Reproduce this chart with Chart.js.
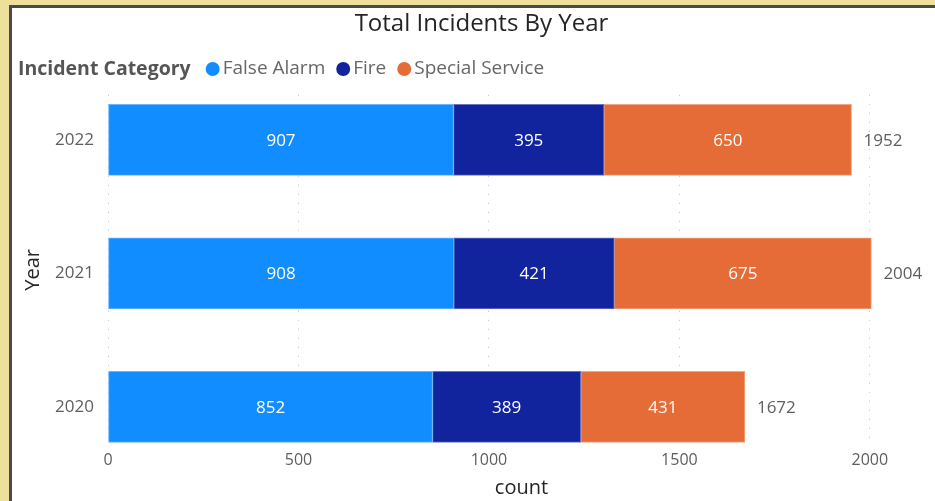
<!DOCTYPE html>
<html>
<head>
<meta charset="utf-8">
<title>Total Incidents By Year</title>
<script src="https://cdn.jsdelivr.net/npm/chart.js@4"></script>
<style>
  html, body { margin: 0; padding: 0; }
  body { width: 935px; height: 501px; background: #EEDF9B; position: relative; overflow: hidden; }
  #panel {
    position: absolute; left: 9px; top: 5px; right: 0; bottom: 0;
    background: #fff;
    border-left: 3px solid #4a4a4a;
    border-top: 3px solid #4a4a4a;
  }
  #chart { position: absolute; left: 0; top: 0; }
</style>
</head>
<body>
<div id="panel"></div>
<canvas id="chart" width="935" height="501"></canvas>
<script>
// ===== data =====
const years = [2020, 2021, 2022];
const falseAlarm = [852, 908, 907];
const fire = [389, 421, 395];
const specialService = [431, 675, 650];
const xTicks = [0, 500, 1000, 1500, 2000];

const seriesNames = ['False Alarm', 'Fire', 'Special Service'];
const seriesColors = ['#118DFF', '#12239E', '#E66C37'];
const seriesEdges = ['#6BB6FF', '#6A74C2', '#F0A585'];

const FONT = "'Open Sans', 'Noto Sans', sans-serif";

function toPoints(values) {
  return values.map((v, i) => ({ x: v, y: years[i] }));
}

// data labels inside segments + totals at the bar end
const barLabels = {
  id: 'barLabels',
  afterDatasetsDraw(chart) {
    const ctx = chart.ctx;
    ctx.save();
    ctx.font = '17px ' + FONT;
    ctx.textBaseline = 'middle';
    chart.data.datasets.forEach((ds, di) => {
      const meta = chart.getDatasetMeta(di);
      meta.data.forEach((el, i) => {
        ctx.fillStyle = '#ffffff';
        ctx.textAlign = 'center';
        ctx.fillText(String(ds.data[i].x), (el.x + el.base) / 2, el.y + 1);
        if (di === chart.data.datasets.length - 1) {
          const total = falseAlarm[i] + fire[i] + specialService[i];
          ctx.fillStyle = '#605E5C';
          ctx.textAlign = 'left';
          ctx.fillText(String(total), el.x + 12, el.y + 1);
        }
      });
    });
    ctx.restore();
  }
};

// Power BI style legend: bold title followed by dot items on one line
const inlineLegend = {
  id: 'inlineLegend',
  afterDraw(chart) {
    const ctx = chart.ctx;
    const y = 69;
    ctx.save();
    ctx.textBaseline = 'middle';
    ctx.textAlign = 'left';
    ctx.font = 'bold 19.5px ' + FONT;
    ctx.fillStyle = '#555555';
    let x = 18;
    ctx.fillText('Incident Category', x, y);
    x += ctx.measureText('Incident Category').width + 15;
    ctx.font = '19px ' + FONT;
    chart.data.datasets.forEach((ds, i) => {
      ctx.fillStyle = seriesColors[i];
      ctx.beginPath();
      ctx.arc(x + 7, y, 7, 0, Math.PI * 2);
      ctx.fill();
      x += 17;
      ctx.fillStyle = '#666666';
      ctx.fillText(ds.label, x, y);
      x += ctx.measureText(ds.label).width + 11;
    });
    ctx.restore();
  }
};

const datasets = [falseAlarm, fire, specialService].map((vals, i) => ({
  label: seriesNames[i],
  data: toPoints(vals),
  backgroundColor: seriesColors[i],
  borderColor: seriesEdges[i],
  borderWidth: 1,
  borderSkipped: false,
  barThickness: 71
}));

new Chart(document.getElementById('chart'), {
  type: 'bar',
  data: { datasets },
  options: {
    indexAxis: 'y',
    responsive: false,
    animation: false,
    layout: { padding: { left: 28, right: 0, top: 0, bottom: 0 } },
    scales: {
      x: {
        type: 'linear',
        stacked: true,
        min: 0,
        max: 2171,
        afterBuildTicks: s => { s.ticks = xTicks.map(v => ({ value: v })); },
        afterFit: s => { s.height = 56; },
        border: { display: false, dash: [1, 8] },
        grid: {
          color: '#BEBBB8',
          lineWidth: 1,
          drawTicks: false
        },
        ticks: {
          padding: 6,
          color: '#605E5C',
          font: { family: FONT, size: 16 },
          callback: v => String(v)
        },
        title: {
          display: true,
          text: 'count',
          color: '#252423',
          font: { family: FONT, size: 20 },
          padding: { top: 0, bottom: 1 }
        }
      },
      y: {
        type: 'linear',
        stacked: true,
        offset: false,
        min: 2019.715,
        max: 2022.337,
        afterBuildTicks: s => { s.ticks = years.map(v => ({ value: v })); },
        afterFit: s => { s.width = 80; },
        border: { display: false },
        grid: { display: false, drawTicks: false },
        ticks: {
          padding: 14,
          color: '#605E5C',
          font: { family: FONT, size: 17 },
          callback: v => String(v)
        },
        title: {
          display: true,
          text: 'Year',
          color: '#252423',
          font: { family: FONT, size: 20, lineHeight: 0.4 },
          padding: { top: 1, bottom: 0 }
        }
      }
    },
    plugins: {
      legend: { display: false },
      tooltip: { enabled: false },
      title: {
        display: true,
        text: 'Total Incidents By Year',
        color: '#252423',
        font: { family: FONT, size: 24, weight: 'normal', lineHeight: 1.2 },
        padding: { top: 10, bottom: 56 }
      }
    }
  },
  plugins: [barLabels, inlineLegend]
});
</script>
</body>
</html>
